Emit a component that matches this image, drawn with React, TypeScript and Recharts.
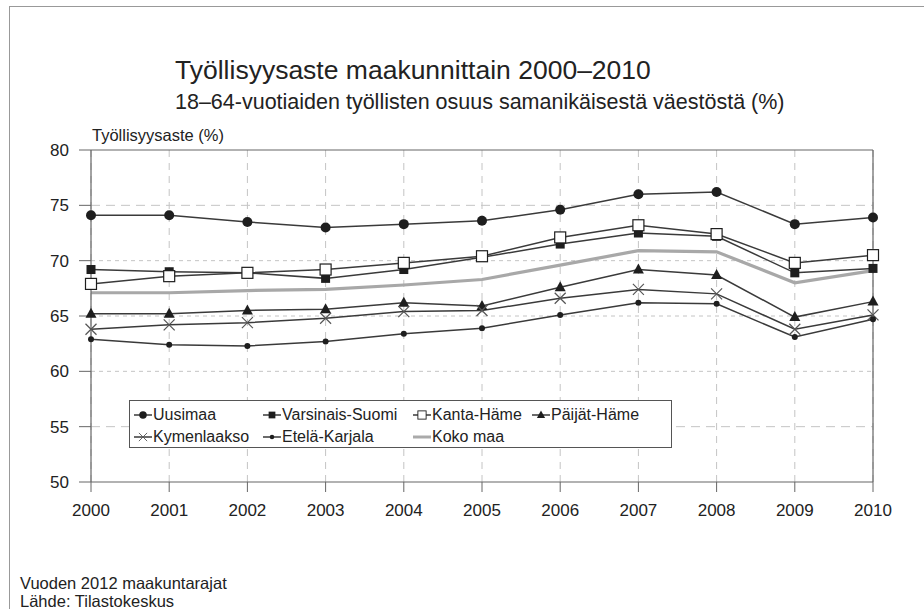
import React from 'react';
import { LineChart, Line, XAxis, YAxis, CartesianGrid, Legend, ReferenceLine } from 'recharts';

const years = [2000, 2001, 2002, 2003, 2004, 2005, 2006, 2007, 2008, 2009, 2010];
const uusimaa = [74.1, 74.1, 73.5, 73.0, 73.3, 73.6, 74.6, 76.0, 76.2, 73.3, 73.9];
const varsinaisSuomi = [69.2, 69.0, 68.9, 68.4, 69.2, 70.3, 71.5, 72.5, 72.2, 68.9, 69.3];
const kantaHame = [67.9, 68.6, 68.9, 69.2, 69.8, 70.4, 72.1, 73.2, 72.4, 69.8, 70.5];
const paijatHame = [65.2, 65.2, 65.5, 65.6, 66.2, 65.9, 67.6, 69.2, 68.7, 64.9, 66.3];
const kymenlaakso = [63.8, 64.2, 64.4, 64.8, 65.4, 65.5, 66.6, 67.4, 67.0, 63.8, 65.1];
const etelaKarjala = [62.9, 62.4, 62.3, 62.7, 63.4, 63.9, 65.1, 66.2, 66.1, 63.1, 64.7];
const kokoMaa = [67.1, 67.1, 67.3, 67.4, 67.8, 68.3, 69.6, 70.9, 70.8, 68.0, 69.1];

const yTicks = [50, 55, 60, 65, 70, 75, 80];
const longDashLines = [55, 75];
const shortDashLines = [60, 65, 70];

const data = years.map((year, i) => ({
  year,
  uusimaa: uusimaa[i],
  varsinaisSuomi: varsinaisSuomi[i],
  kantaHame: kantaHame[i],
  paijatHame: paijatHame[i],
  kymenlaakso: kymenlaakso[i],
  etelaKarjala: etelaKarjala[i],
  kokoMaa: kokoMaa[i],
}));

const LINE = '#3a3a3a';
const MARK = '#1e1e1e';
const FONT = '"Liberation Sans", Arial, Helvetica, sans-serif';

type MarkerKind = 'circle' | 'square' | 'openSquare' | 'triangle' | 'cross' | 'smallDot' | 'none';

const Marker = ({ kind, cx, cy }: { kind: MarkerKind; cx: number; cy: number }) => {
  switch (kind) {
    case 'circle':
      return <circle cx={cx} cy={cy} r={5} fill={MARK} />;
    case 'square':
      return <rect x={cx - 4.5} y={cy - 4.5} width={9} height={9} fill={MARK} />;
    case 'openSquare':
      return <rect x={cx - 5.5} y={cy - 5.5} width={11} height={11} fill="#fff" stroke={MARK} strokeWidth={1.2} />;
    case 'triangle':
      return <polygon points={`${cx},${cy - 6} ${cx - 5.5},${cy + 4} ${cx + 5.5},${cy + 4}`} fill={MARK} />;
    case 'cross':
      return (
        <g stroke="#555" strokeWidth={1.2}>
          <line x1={cx - 5.5} y1={cy - 5.5} x2={cx + 5.5} y2={cy + 5.5} />
          <line x1={cx - 5.5} y1={cy + 5.5} x2={cx + 5.5} y2={cy - 5.5} />
        </g>
      );
    case 'smallDot':
      return <circle cx={cx} cy={cy} r={3} fill={MARK} />;
    default:
      return null;
  }
};

const makeDot = (kind: MarkerKind) => (props: any) => {
  const { cx, cy, key } = props;
  if (cx == null || cy == null) return <g key={key} />;
  return (
    <g key={key}>
      <Marker kind={kind} cx={cx} cy={cy} />
    </g>
  );
};

const series: { key: string; name: string; kind: MarkerKind }[] = [
  { key: 'uusimaa', name: 'Uusimaa', kind: 'circle' },
  { key: 'varsinaisSuomi', name: 'Varsinais-Suomi', kind: 'square' },
  { key: 'kantaHame', name: 'Kanta-Häme', kind: 'openSquare' },
  { key: 'paijatHame', name: 'Päijät-Häme', kind: 'triangle' },
  { key: 'kymenlaakso', name: 'Kymenlaakso', kind: 'cross' },
  { key: 'etelaKarjala', name: 'Etelä-Karjala', kind: 'smallDot' },
  { key: 'kokoMaa', name: 'Koko maa', kind: 'none' },
];

const legendCols = [4, 133, 283, 402];

const LegendItem = ({ name, kind, left, top }: { name: string; kind: MarkerKind; left: number; top: number }) => (
  <div style={{ position: 'absolute', left, top, display: 'flex', alignItems: 'center', whiteSpace: 'nowrap' }}>
    <svg width={18} height={14} style={{ display: 'block' }}>
      {kind === 'none' ? (
        <line x1={0} y1={7} x2={18} y2={7} stroke="#aaa" strokeWidth={3} />
      ) : (
        <>
          <line x1={0} y1={7} x2={18} y2={7} stroke={LINE} strokeWidth={1.5} />
          <g transform="translate(9,7) scale(0.75) translate(-9,-7)">
            <Marker kind={kind} cx={9} cy={7} />
          </g>
        </>
      )}
    </svg>
    <span style={{ marginLeft: 1, fontSize: 16, color: '#222', fontFamily: FONT }}>{name}</span>
  </div>
);

const renderLegend = () => (
  <div style={{ position: 'relative', width: 541, height: 46, border: '1px solid #555', background: '#fff' }}>
    {series.map((s, i) => (
      <LegendItem
        key={s.key}
        name={s.name}
        kind={s.kind}
        left={legendCols[i < 4 ? i : i - 4]}
        top={i < 4 ? 5 : 27}
      />
    ))}
  </div>
);

export default function App() {
  return (
    <div style={{ position: 'absolute', left: 0, top: 0, width: 924, height: 609, background: '#fff', fontFamily: FONT }}>
      <div style={{ position: 'absolute', left: 9, top: 6, width: 915, height: 603, borderLeft: '1.5px solid #999', borderTop: '1.5px solid #999' }} />
      <div style={{ position: 'absolute', left: 175, top: 55, fontSize: 26.5, color: '#222', whiteSpace: 'nowrap', lineHeight: 1.15 }}>
        Työllisyysaste maakunnittain 2000–2010
      </div>
      <div style={{ position: 'absolute', left: 175, top: 90, fontSize: 21.5, color: '#222', whiteSpace: 'nowrap', lineHeight: 1.15 }}>
        18–64-vuotiaiden työllisten osuus samanikäisestä väestöstä (%)
      </div>
      <div style={{ position: 'absolute', left: 92, top: 126, fontSize: 16.5, color: '#222', whiteSpace: 'nowrap', lineHeight: 1.15 }}>
        Työllisyysaste (%)
      </div>
      <div style={{ position: 'absolute', left: 20, top: 574, fontSize: 16.5, color: '#222', lineHeight: '18px', whiteSpace: 'nowrap' }}>
        Vuoden 2012 maakuntarajat
        <br />
        Lähde: Tilastokeskus
      </div>
      <div style={{ position: 'absolute', left: 0, top: 0 }}>
        <LineChart width={924} height={609} data={data} margin={{ top: 150, right: 51, bottom: 97, left: 0 }}>
          <CartesianGrid horizontal={false} vertical stroke="#c4c4c4" strokeDasharray="7 6" />
          {longDashLines.map((v) => (
            <ReferenceLine key={`l${v}`} y={v} stroke="#c4c4c4" strokeDasharray="9 6" />
          ))}
          {shortDashLines.map((v) => (
            <ReferenceLine key={`s${v}`} y={v} stroke="#c4c4c4" strokeDasharray="4 4" />
          ))}
          <ReferenceLine y={80} stroke="#666" strokeWidth={1.2} />
          <ReferenceLine x={2010} stroke="#666" strokeWidth={1.2} />
          <XAxis
            dataKey="year"
            padding={{ left: 0, right: 0 }}
            tickSize={10}
            tickMargin={12}
            tick={{ fill: '#222', fontSize: 17, fontFamily: FONT }}
            axisLine={{ stroke: '#666', strokeWidth: 1.2 }}
            tickLine={{ stroke: '#666' }}
            height={30}
            interval={0}
          />
          <YAxis
            domain={[50, 80]}
            ticks={yTicks}
            width={91}
            tickSize={12}
            tickMargin={10}
            tick={{ fill: '#222', fontSize: 17, fontFamily: FONT }}
            axisLine={{ stroke: '#666', strokeWidth: 1.2 }}
            tickLine={{ stroke: '#666' }}
            interval={0}
          />
          <Legend
            layout="horizontal"
            verticalAlign="middle"
            align="center"
            content={renderLegend}
            wrapperStyle={{ left: 129, top: 400, width: 543, height: 48 }}
          />
          <Line
            dataKey="kokoMaa"
            name="Koko maa"
            stroke="#a8a8a8"
            strokeWidth={3.2}
            dot={false}
            activeDot={false}
            isAnimationActive={false}
          />
          {series
            .filter((s) => s.kind !== 'none')
            .map((s) => (
              <Line
                key={s.key}
                dataKey={s.key}
                name={s.name}
                stroke={LINE}
                strokeWidth={1.5}
                dot={makeDot(s.kind)}
                activeDot={false}
                isAnimationActive={false}
              />
            ))}
        </LineChart>
      </div>
    </div>
  );
}
